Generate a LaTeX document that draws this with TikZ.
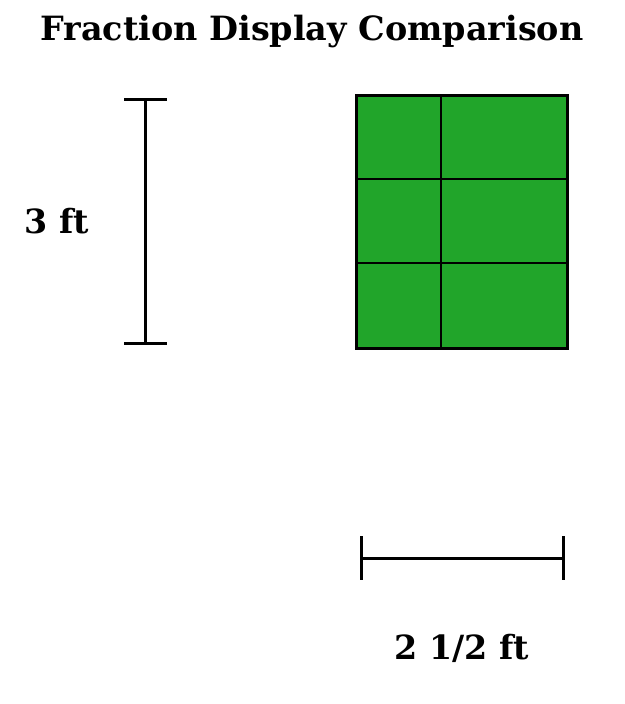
\documentclass[tikz,border=0pt]{standalone}
\usepackage{fontspec}
\setmainfont{DejaVu Serif}
\definecolor{gridgreen}{RGB}{33,165,42}
\begin{document}
\begin{tikzpicture}[x=1pt,y=-1pt,
  dimline/.style={line width=3pt},
  label/.style={font=\bfseries\fontsize{33.3}{40}\selectfont, inner sep=0pt},
  cellline/.style={line width=2pt},
  frame/.style={line width=3pt}]
\useasboundingbox (0,0) rectangle (624,704);
\node[label, font=\bfseries\fontsize{33.4}{40}\selectfont] (title) at (312,32) {Fraction Display Comparison};
% vertical dimension
\coordinate (vt) at (145,99);
\coordinate (vb) at (145,343);
\coordinate (vtl) at (124,99);
\coordinate (vtr) at (167,99);
\coordinate (vbl) at (124,343);
\coordinate (vbr) at (167,343);
\draw[dimline] (vt) -- (vb);
\draw[dimline] (vtl) -- (vtr);
\draw[dimline] (vbl) -- (vbr);
\node[label] (h) at (57,221) {3 ft};
% grid
\fill[gridgreen] (356,95) rectangle (567,348);
\coordinate (c1t) at (441,95);
\coordinate (c1b) at (441,348);
\coordinate (r1l) at (356,179);
\coordinate (r1r) at (567,179);
\coordinate (r2l) at (356,263);
\coordinate (r2r) at (567,263);
\draw[cellline] (c1t) -- (c1b);
\draw[cellline] (r1l) -- (r1r);
\draw[cellline] (r2l) -- (r2r);
\draw[frame] (356,95) rectangle (567,348);
% horizontal dimension
\coordinate (hl) at (361,558);
\coordinate (hr) at (563,558);
\coordinate (hlt) at (361,536);
\coordinate (hlb) at (361,580);
\coordinate (hrt) at (563,536);
\coordinate (hrb) at (563,580);
\draw[dimline] (hl) -- (hr);
\draw[dimline] (hlt) -- (hlb);
\draw[dimline] (hrt) -- (hrb);
\node[label] (w) at (462,648) {2 1/2 ft};
\end{tikzpicture}
\end{document}
